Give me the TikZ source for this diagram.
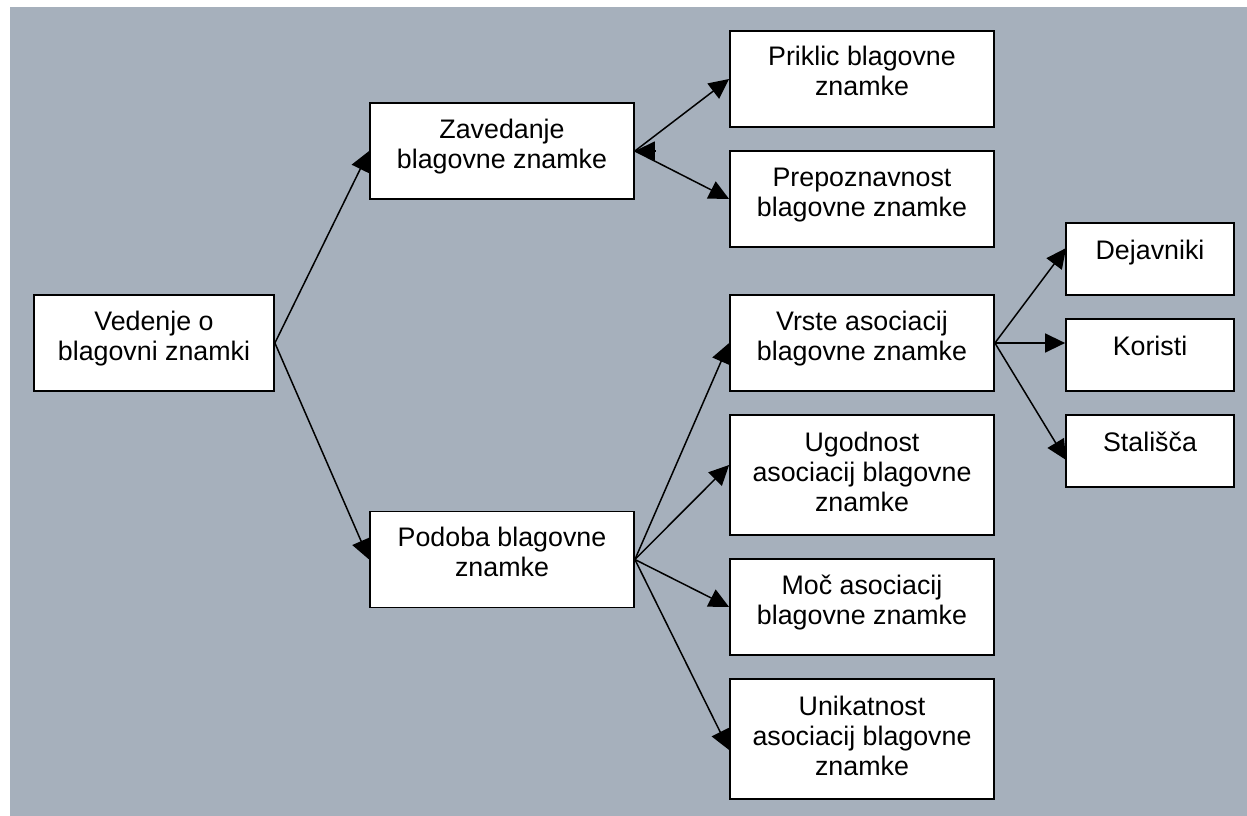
\documentclass[tikz,border=0pt]{standalone}
\usepackage{fontspec}
\setmainfont{Liberation Sans}
\usetikzlibrary{arrows.meta}
\pgfdeclarelayer{bg}
\pgfdeclarelayer{edges}
\pgfsetlayers{bg,edges,main}
\definecolor{panel}{RGB}{166,176,188}
\begin{document}
\begin{tikzpicture}[x=1pt,y=-1pt,
  box/.style={draw=black,line width=1.8pt,fill=white,inner sep=0pt},
  wide/.style={box,minimum width=264pt,minimum height=96pt},
  tall/.style={box,minimum width=264pt,minimum height=120pt},
  small/.style={box,minimum width=168pt,minimum height=72pt},
  txt/.style={font=\fontsize{26.8}{30}\selectfont,align=center,inner sep=0pt},
  conn/.style={draw=black,line width=1.5pt,-{Triangle[length=20pt,width=19pt]}}]
\useasboundingbox (0,0) rectangle (1247,816);
\begin{pgfonlayer}{bg}
\fill[white] (0,0) rectangle (1247,816);
\fill[panel] (10,7) rectangle (1247,816);
\end{pgfonlayer}

% boxes
\node[box,minimum width=240pt,minimum height=96pt] (ved) at (154,343) {};
\node[wide] (zav) at (502,151) {};
\node[wide] (pod) at (502,559.5) {};
\node[wide] (pri) at (862,79) {};
\node[wide] (pre) at (862,199) {};
\node[wide] (vrs) at (862,343) {};
\node[tall] (ugo) at (862,475) {};
\node[wide] (moc) at (862,607) {};
\node[tall] (uni) at (862,739) {};
\node[small] (dej) at (1150,259) {};
\node[small] (kor) at (1150,355) {};
\node[small] (sta) at (1150,451) {};

% texts
\node[txt] (ved-t) at ([yshift=4pt]ved.center) {\strut Vedenje o\\\strut blagovni znamki};
\node[txt] (zav-t) at ([yshift=4pt]zav.center) {\strut Zavedanje\\\strut blagovne znamke};
\node[txt] (pod-t) at ([yshift=4pt]pod.center) {\strut Podoba blagovne\\\strut znamke};
\node[txt] (pri-t) at ([yshift=4pt]pri.center) {\strut Priklic blagovne\\\strut znamke};
\node[txt] (pre-t) at ([yshift=4pt]pre.center) {\strut Prepoznavnost\\\strut blagovne znamke};
\node[txt] (vrs-t) at ([yshift=4pt]vrs.center) {\strut Vrste asociacij\\\strut blagovne znamke};
\node[txt] (ugo-t) at ([yshift=-0.5pt]ugo.center) {\strut Ugodnost\\\strut asociacij blagovne\\\strut znamke};
\node[txt] (moc-t) at ([yshift=4pt]moc.center) {\strut Moč asociacij\\\strut blagovne znamke};
\node[txt] (uni-t) at ([yshift=-0.5pt]uni.center) {\strut Unikatnost\\\strut asociacij blagovne\\\strut znamke};
\node[txt] (dej-t) at ([yshift=6pt]dej.center) {\strut Dejavniki};
\node[txt] (kor-t) at ([yshift=6pt]kor.center) {\strut Koristi};
\node[txt] (sta-t) at ([yshift=6pt]sta.center) {\strut Stališča};

% connectors
\coordinate (rev) at ([xshift=20pt]zav.east);
\begin{pgfonlayer}{edges}
\draw[conn] (ved.east) -- (zav.west);
\draw[conn] (ved.east) -- (pod.west);
\draw[conn] (zav.east) -- (pri.west);
\draw[conn] (zav.east) -- (pre.west);
\draw[conn] (rev) -- (zav.east);
\draw[conn] (pod.east) -- (vrs.west);
\draw[conn] (pod.east) -- ([yshift=10pt]ugo.west);
\draw[conn] (pod.east) -- (moc.west);
\draw[conn] (pod.east) -- ([yshift=-11pt]uni.west);
\draw[conn] (vrs.east) -- ([yshift=11pt,xshift=1pt]dej.west);
\draw[conn] (vrs.east) -- (vrs.east -| kor.west);
\draw[conn] (vrs.east) -- ([yshift=-9pt,xshift=1pt]sta.west);
\end{pgfonlayer}
\end{tikzpicture}
\end{document}
